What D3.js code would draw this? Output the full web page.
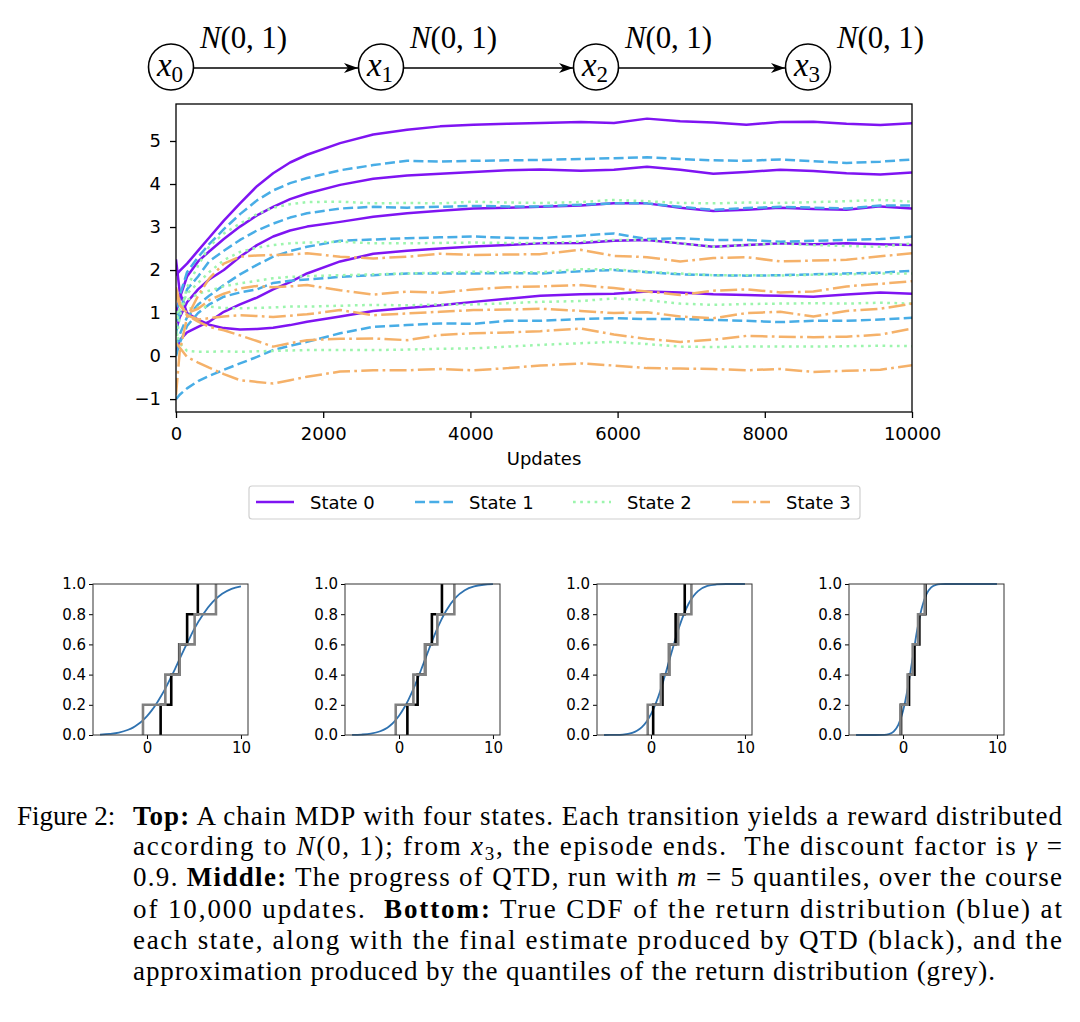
<!DOCTYPE html>
<html><head><meta charset="utf-8">
<script src="https://cdn.jsdelivr.net/npm/d3@7"></script>
<style>
html,body{margin:0;padding:0;background:#fff;}
svg{display:block;}
</style></head><body>
<svg id="fig" width="1080" height="1022"></svg>
<script>
// ---------------- DATA ----------------
const updates = [0, 50, 150, 300, 450, 650, 870, 1100, 1320, 1550, 1780, 2230, 2680, 3140, 3590, 4040, 4500, 4950, 5500, 5950, 6400, 6850, 7300, 7750, 8210, 8660, 9110, 9570, 10000];

// State 0 (five quantile estimates)
const state0 = [
  [2.25, 1.50, 1.00, 0.85, 0.73, 0.65, 0.62, 0.63, 0.66, 0.72, 0.80, 0.92, 1.05, 1.12, 1.18, 1.26, 1.33, 1.40, 1.44, 1.45, 1.50, 1.48, 1.44, 1.42, 1.40, 1.38, 1.43, 1.48, 1.45],
  [0.10, 0.37, 0.55, 0.68, 0.80, 1.03, 1.20, 1.36, 1.55, 1.72, 1.92, 2.20, 2.38, 2.45, 2.50, 2.55, 2.58, 2.62, 2.63, 2.68, 2.70, 2.62, 2.54, 2.58, 2.62, 2.60, 2.62, 2.60, 2.58],
  [0.60, 0.90, 1.25, 1.55, 1.78, 2.00, 2.31, 2.58, 2.78, 2.92, 3.01, 3.12, 3.24, 3.32, 3.38, 3.43, 3.45, 3.47, 3.50, 3.55, 3.55, 3.45, 3.37, 3.40, 3.45, 3.42, 3.40, 3.48, 3.43],
  [1.00, 1.35, 1.85, 2.20, 2.43, 2.72, 3.01, 3.27, 3.47, 3.65, 3.78, 3.98, 4.12, 4.20, 4.24, 4.28, 4.32, 4.34, 4.31, 4.33, 4.40, 4.33, 4.24, 4.28, 4.33, 4.30, 4.25, 4.22, 4.27],
  [1.88, 1.98, 2.15, 2.45, 2.75, 3.15, 3.55, 3.95, 4.25, 4.50, 4.68, 4.95, 5.15, 5.26, 5.34, 5.38, 5.40, 5.42, 5.44, 5.42, 5.52, 5.46, 5.43, 5.38, 5.44, 5.45, 5.40, 5.37, 5.41]
];
// State 1
const state1 = [
  [-1.00, -0.90, -0.75, -0.58, -0.46, -0.32, -0.17, -0.02, 0.14, 0.24, 0.33, 0.53, 0.68, 0.72, 0.76, 0.75, 0.82, 0.82, 0.86, 0.88, 0.86, 0.86, 0.84, 0.82, 0.79, 0.82, 0.82, 0.85, 0.89],
  [0.00, 0.30, 0.70, 1.00, 1.20, 1.38, 1.48, 1.55, 1.70, 1.75, 1.78, 1.84, 1.88, 1.92, 1.92, 1.92, 1.93, 1.92, 1.97, 2.00, 1.95, 1.90, 1.88, 1.87, 1.88, 1.90, 1.92, 1.94, 1.98],
  [0.20, 0.50, 0.90, 1.20, 1.40, 1.65, 1.90, 2.12, 2.31, 2.44, 2.54, 2.68, 2.71, 2.74, 2.76, 2.78, 2.75, 2.74, 2.80, 2.85, 2.72, 2.74, 2.70, 2.70, 2.66, 2.68, 2.70, 2.72, 2.78],
  [0.50, 1.00, 1.55, 1.85, 2.20, 2.45, 2.70, 2.92, 3.08, 3.22, 3.32, 3.43, 3.47, 3.45, 3.47, 3.49, 3.48, 3.48, 3.52, 3.55, 3.55, 3.47, 3.40, 3.44, 3.47, 3.45, 3.43, 3.50, 3.50],
  [0.80, 1.40, 1.95, 2.30, 2.60, 2.95, 3.30, 3.62, 3.85, 4.02, 4.14, 4.32, 4.44, 4.54, 4.52, 4.54, 4.55, 4.56, 4.58, 4.60, 4.62, 4.58, 4.55, 4.54, 4.57, 4.53, 4.49, 4.52, 4.57]
];
// State 2
const state2 = [
  [0.60, 0.30, 0.12, 0.10, 0.10, 0.11, 0.10, 0.11, 0.12, 0.13, 0.14, 0.14, 0.14, 0.15, 0.17, 0.18, 0.22, 0.26, 0.30, 0.33, 0.28, 0.22, 0.21, 0.22, 0.22, 0.22, 0.23, 0.24, 0.23],
  [1.00, 1.05, 1.10, 1.13, 1.15, 1.12, 1.11, 1.12, 1.13, 1.15, 1.15, 1.17, 1.19, 1.18, 1.20, 1.20, 1.23, 1.26, 1.28, 1.34, 1.30, 1.22, 1.19, 1.21, 1.22, 1.23, 1.22, 1.24, 1.22],
  [0.90, 1.10, 1.30, 1.45, 1.52, 1.62, 1.69, 1.75, 1.81, 1.84, 1.86, 1.88, 1.90, 1.92, 1.94, 1.96, 1.95, 1.95, 2.02, 2.02, 1.96, 1.92, 1.88, 1.88, 1.87, 1.89, 1.90, 1.92, 1.92],
  [0.70, 1.10, 1.45, 1.70, 1.95, 2.23, 2.42, 2.52, 2.58, 2.62, 2.64, 2.66, 2.62, 2.62, 2.63, 2.64, 2.63, 2.63, 2.66, 2.70, 2.70, 2.62, 2.54, 2.58, 2.62, 2.58, 2.56, 2.54, 2.62],
  [0.30, 0.90, 1.60, 2.10, 2.55, 2.85, 3.08, 3.30, 3.45, 3.53, 3.58, 3.59, 3.55, 3.56, 3.55, 3.59, 3.57, 3.56, 3.58, 3.63, 3.60, 3.56, 3.55, 3.57, 3.56, 3.58, 3.60, 3.63, 3.59]
];
// State 3
const state3 = [
  [0.30, 0.20, -0.02, -0.15, -0.27, -0.42, -0.56, -0.60, -0.64, -0.56, -0.48, -0.36, -0.33, -0.33, -0.30, -0.33, -0.28, -0.22, -0.17, -0.22, -0.28, -0.29, -0.30, -0.33, -0.30, -0.37, -0.34, -0.32, -0.21],
  [1.40, 1.20, 0.95, 0.80, 0.68, 0.60, 0.48, 0.35, 0.22, 0.30, 0.37, 0.40, 0.41, 0.37, 0.49, 0.53, 0.55, 0.58, 0.64, 0.50, 0.40, 0.33, 0.38, 0.47, 0.45, 0.44, 0.45, 0.50, 0.64],
  [1.60, 1.25, 0.95, 0.85, 0.88, 0.92, 0.95, 0.93, 0.91, 0.94, 0.97, 1.07, 0.95, 0.99, 1.03, 1.07, 1.08, 1.10, 1.05, 1.00, 1.02, 0.92, 0.88, 1.00, 1.03, 0.92, 1.05, 1.10, 1.22],
  [1.50, 1.20, 1.00, 1.10, 1.30, 1.45, 1.57, 1.63, 1.60, 1.62, 1.65, 1.53, 1.43, 1.50, 1.47, 1.55, 1.60, 1.62, 1.65, 1.58, 1.50, 1.42, 1.52, 1.55, 1.48, 1.50, 1.62, 1.68, 1.74],
  [-0.90, 0.10, 0.90, 1.40, 1.80, 2.15, 2.31, 2.34, 2.35, 2.36, 2.39, 2.31, 2.27, 2.31, 2.38, 2.35, 2.36, 2.37, 2.47, 2.33, 2.30, 2.20, 2.28, 2.30, 2.20, 2.22, 2.24, 2.32, 2.39]
];

const stateNames = ["State 0", "State 1", "State 2", "State 3"];
const stateColors = ["#7f14f2", "#48ade6", "#9cf5ad", "#f5b169"];
const stateDashes = [null, "10,4.3", "2.7,4.5", "17,4.3,2.7,4.3"];

const xTicks = [0, 2000, 4000, 6000, 8000, 10000];
const yTicks = [-1, 0, 1, 2, 3, 4, 5];

// True CDFs of the return distribution
const cdfX = [-5, -4, -3, -2, -1.5, -1, -0.5, 0, 0.5, 1, 1.5, 2, 2.5, 3, 3.5, 4, 4.5, 5, 6, 7, 8, 9, 10];
const cdf0 = [0.002, 0.007, 0.016, 0.035, 0.049, 0.069, 0.094, 0.125, 0.163, 0.207, 0.258, 0.314, 0.376, 0.44, 0.507, 0.573, 0.637, 0.70, 0.802, 0.881, 0.935, 0.968, 0.985];
const cdf1 = [0.001, 0.003, 0.009, 0.025, 0.039, 0.060, 0.089, 0.127, 0.175, 0.233, 0.300, 0.375, 0.456, 0.537, 0.618, 0.694, 0.762, 0.821, 0.908, 0.959, 0.984, 0.995, 0.999];
const cdf2 = [0.000, 0.001, 0.003, 0.014, 0.028, 0.050, 0.086, 0.138, 0.208, 0.295, 0.397, 0.507, 0.615, 0.716, 0.801, 0.869, 0.919, 0.953, 0.987, 0.997, 1.0, 1.0, 1.0];
const cdf3 = [0.000, 0.000, 0.000, 0.001, 0.006, 0.023, 0.067, 0.159, 0.309, 0.500, 0.692, 0.841, 0.933, 0.977, 0.994, 0.999, 1.0, 1.0, 1.0, 1.0, 1.0, 1.0, 1.0];
// Quantiles of the true return distribution (grey)
const grey0 = [-0.43, 1.95, 3.47, 5.07, 7.34];
const grey1 = [-0.35, 1.53, 2.78, 4.08, 5.89];
const grey2 = [-0.35, 1.05, 1.95, 2.90, 4.30];
const grey3 = [-0.28, 0.49, 1.03, 1.60, 2.31];
const cdfYTicks = [0, 0.2, 0.4, 0.6, 0.8, 1.0];
const cdfXTicks = [0, 10];
const quantileLevels = [0, 0.2, 0.4, 0.6, 0.8, 1.0];

// ---------------- DRAW ----------------
const svg = d3.select("#fig");
const FONT = "DejaVu Sans, sans-serif";
const SERIF = "Liberation Serif, Times New Roman, serif";

// ---- Chain diagram ----
const nodes = [171, 381, 596, 808];
const nodeY = 67;
const diag = svg.append("g");
const defs = svg.append("defs");
defs.append("marker").attr("id", "stealth").attr("viewBox", "0 0 14 10")
  .attr("refX", 14).attr("refY", 5).attr("markerWidth", 14).attr("markerHeight", 10)
  .attr("markerUnits", "userSpaceOnUse").attr("orient", "auto")
  .append("path").attr("d", "M0,0 L14,5 L0,10 L4,5 Z").attr("fill", "#000");
nodes.forEach((cx, i) => {
  diag.append("ellipse").attr("cx", cx).attr("cy", nodeY).attr("rx", 22.5).attr("ry", 23)
    .attr("fill", "none").attr("stroke", "#000").attr("stroke-width", 1.6);
  const t = diag.append("text").attr("x", cx - 1).attr("y", nodeY + 9).attr("text-anchor", "middle")
    .style("font-family", SERIF).style("font-size", "33px");
  t.append("tspan").style("font-style", "italic").text("x");
  t.append("tspan").attr("dy", 6).style("font-size", "23px").text(String(i));
  if (i < nodes.length - 1) {
    diag.append("line").attr("x1", cx + 23).attr("x2", nodes[i + 1] - 23)
      .attr("y1", nodeY + 1).attr("y2", nodeY + 1).attr("stroke", "#000").attr("stroke-width", 1.6)
      .attr("marker-end", "url(#stealth)");
  }
  const lab = diag.append("text").attr("x", cx + 29).attr("y", 48)
    .attr("textLength", 87).attr("lengthAdjust", "spacing")
    .style("font-family", SERIF).style("font-size", "31px");
  lab.append("tspan").style("font-style", "italic").text("N");
  lab.append("tspan").text("(0, 1)");
});

// ---- Main line chart ----
const M = { left: 176, right: 912, top: 104, bottom: 412 };
const x = d3.scaleLinear().domain([0, 10000]).range([M.left, M.right]);
const y = d3.scaleLinear().domain([-1.30, 5.86]).range([M.bottom, M.top]);

defs.append("clipPath").attr("id", "plotclip").append("rect")
  .attr("x", M.left).attr("y", M.top).attr("width", M.right - M.left).attr("height", M.bottom - M.top);

const main = svg.append("g");
const lineGen = d3.line().x((d, i) => x(updates[i])).y(d => y(d));
const allStates = [state0, state1, state2, state3];
const linesG = main.append("g").attr("clip-path", "url(#plotclip)");
allStates.forEach((st, s) => {
  st.forEach(series => {
    linesG.append("path").attr("d", lineGen(series))
      .attr("fill", "none").attr("stroke", stateColors[s]).attr("stroke-width", 2.5)
      .attr("stroke-dasharray", stateDashes[s]).attr("stroke-linejoin", "round");
  });
});

const xAxis = main.append("g").attr("transform", `translate(0,${M.bottom})`)
  .call(d3.axisBottom(x).tickValues(xTicks).tickFormat(d3.format("d")).tickSize(6).tickPadding(9));
const yAxis = main.append("g").attr("transform", `translate(${M.left},0)`)
  .call(d3.axisLeft(y).tickValues(yTicks).tickFormat(d3.format("d")).tickSize(6).tickPadding(9));
[xAxis, yAxis].forEach(a => {
  a.select(".domain").remove();
  a.selectAll(".tick line").attr("stroke", "#000").attr("stroke-width", 1.3);
  a.selectAll(".tick text").style("font-family", FONT).style("font-size", "18px").attr("fill", "#000");
});
main.append("rect").attr("x", M.left).attr("y", M.top).attr("width", M.right - M.left)
  .attr("height", M.bottom - M.top).attr("fill", "none").attr("stroke", "#000").attr("stroke-width", 1.3);
main.append("text").attr("x", (M.left + M.right) / 2).attr("y", 465).attr("text-anchor", "middle")
  .style("font-family", FONT).style("font-size", "18px").text("Updates");

// ---- Legend ----
const leg = svg.append("g");
leg.append("rect").attr("x", 249).attr("y", 486).attr("width", 611).attr("height", 33).attr("rx", 3)
  .attr("fill", "#fff").attr("stroke", "#d0d0d0").attr("stroke-width", 1.2);
const legX = [256, 415, 573, 732];
stateNames.forEach((nm, s) => {
  leg.append("line").attr("x1", legX[s]).attr("x2", legX[s] + 38).attr("y1", 502).attr("y2", 502)
    .attr("stroke", stateColors[s]).attr("stroke-width", 2.5).attr("stroke-dasharray", stateDashes[s]);
  leg.append("text").attr("x", legX[s] + 54).attr("y", 508.5)
    .style("font-family", FONT).style("font-size", "18px").text(nm);
});

// ---- CDF panels ----
const cdfs = [cdf0, cdf1, cdf2, cdf3];
const greys = [grey0, grey1, grey2, grey3];
const finals = allStates.map(st => st.map(s => s[s.length - 1]).sort((a, b) => a - b));
const P = { top: 584, bottom: 735, width: 155 };
function stepPoints(q) {
  const pts = [];
  q.forEach((v, k) => { pts.push([v, quantileLevels[k]]); pts.push([v, quantileLevels[k + 1]]); });
  return pts;
}
cdfs.forEach((cdf, p) => {
  const left = 93 + 252 * p;
  const px = d3.scaleLinear().domain([-5.75, 10.75]).range([left, left + P.width]);
  const py = d3.scaleLinear().domain([0, 1]).range([P.bottom, P.top]);
  const g = svg.append("g");
  const cid = "pclip" + p;
  defs.append("clipPath").attr("id", cid).append("rect").attr("x", left).attr("y", P.top - 2)
    .attr("width", P.width).attr("height", P.bottom - P.top + 4);
  const inner = g.append("g").attr("clip-path", `url(#${cid})`);
  inner.append("path").attr("d", d3.line().curve(d3.curveMonotoneX).x((d, i) => px(cdfX[i])).y(d => py(d))(cdf))
    .attr("fill", "none").attr("stroke", "#2f72b0").attr("stroke-width", 1.8);
  const stepLine = d3.line().x(d => px(d[0])).y(d => py(d[1]));
  inner.append("path").attr("d", stepLine(stepPoints(finals[p])))
    .attr("fill", "none").attr("stroke", "#000").attr("stroke-width", 2.6);
  inner.append("path").attr("d", stepLine(stepPoints(greys[p])))
    .attr("fill", "none").attr("stroke", "#808080").attr("stroke-width", 2.6);
  const ax = g.append("g").attr("transform", `translate(0,${P.bottom})`)
    .call(d3.axisBottom(px).tickValues(cdfXTicks).tickFormat(d3.format("d")).tickSize(4).tickPadding(3));
  const ay = g.append("g").attr("transform", `translate(${left},0)`)
    .call(d3.axisLeft(py).tickValues(cdfYTicks).tickFormat(d3.format(".1f")).tickSize(4).tickPadding(3));
  [ax, ay].forEach(a => {
    a.select(".domain").remove();
    a.selectAll(".tick line").attr("stroke", "#000").attr("stroke-width", 1);
    a.selectAll(".tick text").style("font-family", FONT).style("font-size", "15px").attr("fill", "#000");
  });
  g.append("rect").attr("x", left).attr("y", P.top).attr("width", P.width).attr("height", P.bottom - P.top)
    .attr("fill", "none").attr("stroke", "#333").attr("stroke-width", 1);
});

// ---- Caption ----
const cap = svg.append("g").style("font-family", SERIF).style("font-size", "27px").attr("fill", "#000");
cap.append("text").attr("x", 17).attr("y", 825).text("Figure 2:");
function capLine(yb, parts, len) {
  const t = cap.append("text").attr("x", 133).attr("y", yb).attr("xml:space", "preserve");
  if (len) t.attr("textLength", len).attr("lengthAdjust", "spacing");
  parts.forEach(p => {
    const s = t.append("tspan").text(p.t);
    if (p.b) s.style("font-weight", "bold");
    if (p.i) s.style("font-style", "italic");
    if (p.sub) s.attr("dy", 5).style("font-size", "19px");
    if (p.unsub) s.attr("dy", -5);
  });
}
capLine(825, [{ t: "Top:", b: 1 }, { t: " A chain MDP with four states. Each transition yields a reward distributed" }], 929);
capLine(855, [{ t: "according to " }, { t: "N", i: 1 }, { t: "(0, 1); from " }, { t: "x", i: 1 }, { t: "3", sub: 1 },
  { t: ", the episode ends.  The discount factor is ", unsub: 1 }, { t: "γ", i: 1 }, { t: " =" }], 929);
capLine(886, [{ t: "0.9. " }, { t: "Middle:", b: 1 }, { t: " The progress of QTD, run with " }, { t: "m", i: 1 },
  { t: " = 5 quantiles, over the course" }], 929);
capLine(918, [{ t: "of 10,000 updates.  " }, { t: "Bottom:", b: 1 }, { t: " True CDF of the return distribution (blue) at" }], 929);
capLine(949, [{ t: "each state, along with the final estimate produced by QTD (black), and the" }], 929);
capLine(980, [{ t: "approximation produced by the quantiles of the return distribution (grey)." }], 862);
</script>
</body></html>
